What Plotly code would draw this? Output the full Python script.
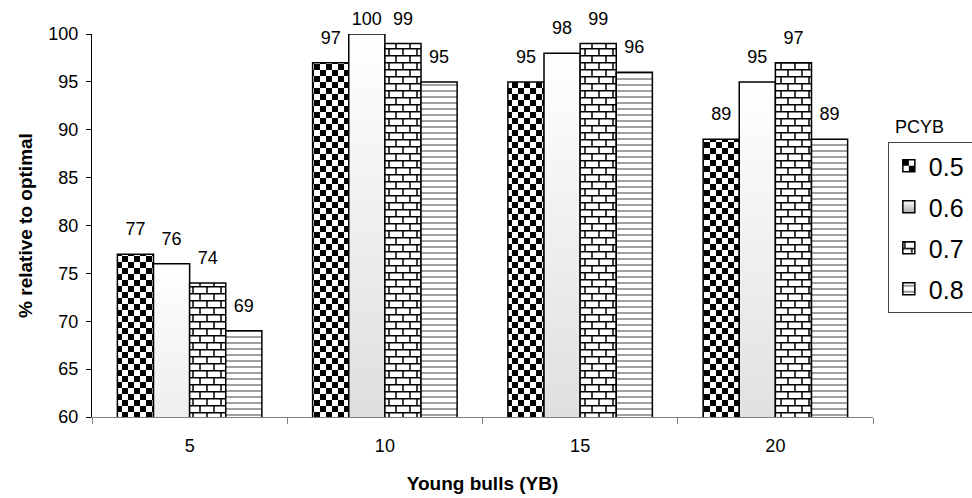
import plotly.graph_objects as go

categories = ["5", "10", "15", "20"]
series_names = ["0.5", "0.6", "0.7", "0.8"]
values_05 = [77, 97, 95, 89]
values_06 = [76, 100, 98, 95]
values_07 = [74, 99, 99, 97]
values_08 = [69, 95, 96, 89]
series_values = [values_05, values_06, values_07, values_08]
y_ticks = [60, 65, 70, 75, 80, 85, 90, 95, 100]

FONT = "Liberation Sans, Arial, sans-serif"
fallback = ["#444444", "#dddddd", "#999999", "#cccccc"]

fig = go.Figure()
for i, (name, vals) in enumerate(zip(series_names, series_values)):
    fig.add_trace(go.Bar(
        x=categories, y=vals, name=name + "\u00a0",
        legendgroup=name,
        marker=dict(color=fallback[i], line=dict(color="black", width=1.5)),
        text=[str(v) for v in vals], textposition="outside",
        textfont=dict(family=FONT, size=18, color="black"),
        constraintext="none", cliponaxis=False,
    ))

fig.update_layout(
    width=972, height=498,
    margin=dict(l=92, r=99, t=34, b=81, autoexpand=False),
    paper_bgcolor="white", plot_bgcolor="white",
    barmode="group", bargap=0.26, bargroupgap=0,
    font=dict(family=FONT, color="black", size=18),
    showlegend=True,
    legend=dict(
        x=1.019, xanchor="left", y=0.718, yanchor="top",
        bordercolor="#444444", borderwidth=1,
        font=dict(family=FONT, size=25, color="black"),
        itemwidth=30, tracegroupgap=5.5, traceorder="grouped",
        bgcolor="white",
    ),
    annotations=[dict(
        text="PCYB", xref="paper", yref="paper", x=1.025, y=0.757,
        xanchor="left", yanchor="middle", showarrow=False,
        font=dict(family=FONT, size=18, color="black"),
    )],
)
fig.update_xaxes(
    type="category", showline=True, linecolor="#808080", linewidth=1,
    ticks="outside", tickson="boundaries", ticklen=6, tickcolor="#808080",
    ticklabelstandoff=12,
    tickfont=dict(family=FONT, size=18), showgrid=False,
    title=dict(text="<b>Young bulls (YB)</b>", font=dict(family=FONT, size=19), standoff=22),
)
fig.update_yaxes(
    range=[60, 100], tickvals=y_ticks, showline=True, linecolor="black", linewidth=1,
    ticks="outside", ticklen=5, tickcolor="black", ticklabelstandoff=4,
    tickfont=dict(family=FONT, size=18), showgrid=False, zeroline=False,
    title=dict(text="<b>% relative to optimal</b>", font=dict(family=FONT, size=19), standoff=10),
)

post_js = r"""
var gd = document.getElementById('{plot_id}');
function applyStyles(){
  var svgs = gd.querySelectorAll('svg.main-svg');
  if(!svgs.length) return;
  var svg0 = svgs[0];
  if(!document.getElementById('pat-chk')){
    var ns = 'http://www.w3.org/2000/svg';
    var defs = document.createElementNS(ns, 'defs');
    defs.innerHTML =
      '<pattern id="pat-chk" patternUnits="userSpaceOnUse" width="12" height="12">' +
        '<rect x="0" y="0" width="12" height="12" fill="#ffffff"/>' +
        '<rect x="0" y="0" width="6" height="6" fill="#000000"/>' +
        '<rect x="6" y="6" width="6" height="6" fill="#000000"/>' +
      '</pattern>' +
      '<linearGradient id="grad-g" x1="0" y1="0" x2="0" y2="1">' +
        '<stop offset="0" stop-color="#ffffff"/>' +
        '<stop offset="1" stop-color="#adadad"/>' +
      '</linearGradient>' +
      '<pattern id="pat-brick" patternUnits="userSpaceOnUse" width="14" height="14">' +
        '<rect x="0" y="0" width="14" height="14" fill="#ffffff"/>' +
        '<path d="M0,0.75H14M0,7.75H14M3,0V7.75M10,7.75V14" stroke="#000000" stroke-width="1.5" fill="none"/>' +
      '</pattern>' +
      '<pattern id="pat-hl" patternUnits="userSpaceOnUse" width="6" height="6">' +
        '<rect x="0" y="0" width="6" height="6" fill="#ffffff"/>' +
        '<rect x="0" y="2" width="6" height="2" fill="#a0a0a0"/>' +
      '</pattern>';
    svg0.insertBefore(defs, svg0.firstChild);
  }
  var fills = ['url(#pat-chk)', 'url(#grad-g)', 'url(#pat-brick)', 'url(#pat-hl)'];
  gd.querySelectorAll('.barlayer .trace').forEach(function(t, i){
    t.querySelectorAll('path').forEach(function(p){ p.style.fill = fills[i % 4]; p.style.fillOpacity = 1; });
  });
  gd.querySelectorAll('.legend .traces').forEach(function(t, i){
    t.querySelectorAll('.legendpoints path').forEach(function(p){ p.style.fill = fills[i % 4]; p.style.fillOpacity = 1; });
  });
  var top0 = gd.getBoundingClientRect().top;
  gd.querySelectorAll('.barlayer text.bartext').forEach(function(tx){
    var tr = tx.getAttribute('transform') || '';
    if(tr.indexOf('translate(0,') === 0) return;
    var shift = -12;
    var bb = tx.getBoundingClientRect();
    var newTop = bb.top - top0 + shift;
    if(newTop < 9){ shift = shift + (9 - newTop); }
    tx.setAttribute('transform', 'translate(0,' + shift.toFixed(1) + ') ' + tr);
  });
}
applyStyles();
if(gd.on){ gd.on('plotly_afterplot', applyStyles); }
"""

fig.write_html("out.html", post_script=post_js)
